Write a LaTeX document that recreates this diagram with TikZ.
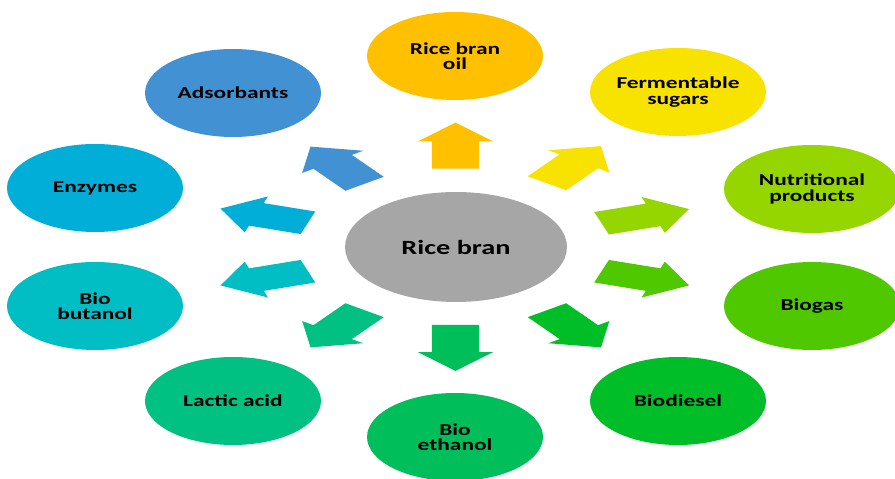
\documentclass[tikz,border=0pt]{standalone}
\usepackage{fontspec}
\setsansfont{Carlito}[FakeStretch=1.4]
\usetikzlibrary{shapes.geometric,shapes.arrows,calc}
\definecolor{rbgray}{RGB}{166,166,166}
\definecolor{oilc}{RGB}{255,192,0}
\definecolor{sugc}{RGB}{247,226,0}
\definecolor{nutc}{RGB}{150,214,0}
\definecolor{gasc}{RGB}{80,200,0}
\definecolor{dieselc}{RGB}{0,190,40}
\definecolor{ethc}{RGB}{0,190,90}
\definecolor{lacc}{RGB}{0,192,130}
\definecolor{butc}{RGB}{0,190,195}
\definecolor{enzc}{RGB}{0,174,215}
\definecolor{adsc}{RGB}{66,145,210}

\begin{document}
\begin{tikzpicture}[x=0.02cm, y=0.02cm,
    every node/.style={font=\sffamily\bfseries\fontsize{9.5}{8.8}\selectfont, align=center, text=black},
    product/.style={ellipse, minimum width=3.52cm, minimum height=1.76cm, inner sep=0pt},
    outarrow/.style={single arrow, minimum height=0.92cm, inner xsep=0pt, inner ysep=0.23cm,
        single arrow head extend=0.14cm, xscale=2}]
    \useasboundingbox (0,0) rectangle (895,479);
    \node[product, fill=rbgray, minimum width=4.44cm, minimum height=2.2cm,
        font=\sffamily\bfseries\fontsize{11.5}{12}\selectfont] (rb) at (456,232) {Rice bran};
    \node[product, fill=oilc] (oil) at (455,423) {Rice bran\\oil};
    \node[product, fill=sugc] (sugars) at (678,387) {Fermentable\\sugars};
    \node[product, fill=nutc] (nutri) at (812,290) {Nutritional\\products};
    \node[product, fill=gasc] (biogas) at (812,173) {Biogas};
    \node[product, fill=dieselc] (diesel) at (678,78) {Biodiesel};
    \node[product, fill=ethc] (ethanol) at (455,42) {Bio\\ethanol};
    \node[product, fill=lacc] (lactic) at (233,78) {Lactic acid};
    \node[product, fill=butc] (butanol) at (95,173) {Bio\\butanol};
    \node[product, fill=enzc] (enzymes) at (95,291) {Enzymes};
    \node[product, fill=adsc] (adsorb) at (233,386) {Adsorbants};

    \node[outarrow, fill=oilc, rotate=90] (a-oil) at ($(rb)!0.5!(oil)$) {};
    \node[outarrow, fill=sugc, rotate=54] (a-sugars) at ($(rb)!0.5!(sugars)$) {};
    \node[outarrow, fill=nutc, rotate=18] (a-nutri) at ($(rb)!0.5!(nutri)$) {};
    \node[outarrow, fill=gasc, rotate=-18] (a-biogas) at ($(rb)!0.5!(biogas)$) {};
    \node[outarrow, fill=dieselc, rotate=-54] (a-diesel) at ($(rb)!0.5!(diesel)$) {};
    \node[outarrow, fill=ethc, rotate=-90] (a-ethanol) at ($(rb)!0.5!(ethanol)$) {};
    \node[outarrow, fill=lacc, rotate=-126] (a-lactic) at ($(rb)!0.5!(lactic)$) {};
    \node[outarrow, fill=butc, rotate=198] (a-butanol) at ($(rb)!0.5!(butanol)$) {};
    \node[outarrow, fill=enzc, rotate=162] (a-enzymes) at ($(rb)!0.5!(enzymes)$) {};
    \node[outarrow, fill=adsc, rotate=126] (a-adsorb) at ($(rb)!0.5!(adsorb)$) {};
\end{tikzpicture}
\end{document}
